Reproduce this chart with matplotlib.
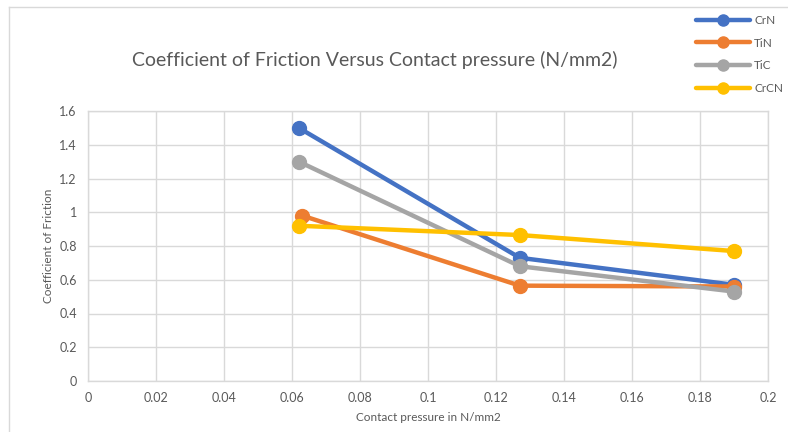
import matplotlib
matplotlib.use("Agg")
import matplotlib.pyplot as plt
from matplotlib.lines import Line2D

plt.rcParams['font.family'] = ['Lato', 'DejaVu Sans']

# Contact pressure (N/mm2) per coating
x_crn = [0.062, 0.127, 0.19]
x_tin = [0.063, 0.127, 0.19]
x_tic = [0.062, 0.127, 0.19]
x_crcn = [0.062, 0.127, 0.19]

# Coefficient of friction per coating
crn = [1.50, 0.73, 0.57]
tin = [0.98, 0.565, 0.56]
tic = [1.30, 0.68, 0.53]
crcn = [0.92, 0.865, 0.77]

series = [
    ("CrN", x_crn, crn, "#4472C4"),
    ("TiN", x_tin, tin, "#ED7D31"),
    ("TiC", x_tic, tic, "#A5A5A5"),
    ("CrCN", x_crcn, crcn, "#FFC000"),
]

xticks = [0, 0.02, 0.04, 0.06, 0.08, 0.1, 0.12, 0.14, 0.16, 0.18, 0.2]
xtick_labels = ["0", "0.02", "0.04", "0.06", "0.08", "0.1", "0.12", "0.14", "0.16", "0.18", "0.2"]
yticks = [0, 0.2, 0.4, 0.6, 0.8, 1.0, 1.2, 1.4, 1.6]
ytick_labels = ["0", "0.2", "0.4", "0.6", "0.8", "1", "1.2", "1.4", "1.6"]

W, H = 788, 432
fig = plt.figure(figsize=(W / 100, H / 100), dpi=100)
fig.patch.set_facecolor("white")

# chart area outline
fig.add_artist(Line2D([9 / W, 9 / W], [0, 1 - 7 / H], transform=fig.transFigure,
                      color="#d9d9d9", lw=1))
fig.add_artist(Line2D([9 / W, 1], [1 - 7 / H, 1 - 7 / H], transform=fig.transFigure,
                      color="#d9d9d9", lw=1))

ax = fig.add_axes([88 / W, 1 - 381 / H, (768 - 88) / W, (381 - 111) / H])
ax.set_xlim(0, 0.2)
ax.set_ylim(0, 1.6)
ax.set_xticks(xticks)
ax.set_xticklabels(xtick_labels)
ax.set_yticks(yticks)
ax.set_yticklabels(ytick_labels)
ax.grid(True, color="#d9d9d9", lw=1)
ax.set_axisbelow(True)
for s in ax.spines.values():
    s.set_color("#d9d9d9")
    s.set_linewidth(1)
ax.tick_params(length=0, colors="#595959", labelsize=9, pad=8)

handles = []
for name, xs, ys, c in series:
    h, = ax.plot(xs, ys, color=c, lw=3.2, marker="o", markersize=10,
                 solid_capstyle="round", label=name, zorder=3)
    handles.append(h)

ax.set_xlabel("Contact pressure in N/mm2", fontsize=8.5, color="#595959", labelpad=6)
ax.set_ylabel("Coefficient of Friction", fontsize=8.5, color="#595959", labelpad=4)

fig.text(375 / W, 1 - 60 / H, "Coefficient of Friction Versus Contact pressure (N/mm2)",
         ha="center", va="center", fontsize=14, color="#595959")

leg = fig.legend(handles=handles, loc="upper left", bbox_to_anchor=(691 / W, 1 - 10 / H),
                 frameon=False, fontsize=8.5, handlelength=4.6, labelspacing=1.0,
                 handletextpad=0.35, borderaxespad=0, markerscale=0.8)
for t in leg.get_texts():
    t.set_color("#595959")

fig.savefig("out.png", dpi=100, facecolor="white")
